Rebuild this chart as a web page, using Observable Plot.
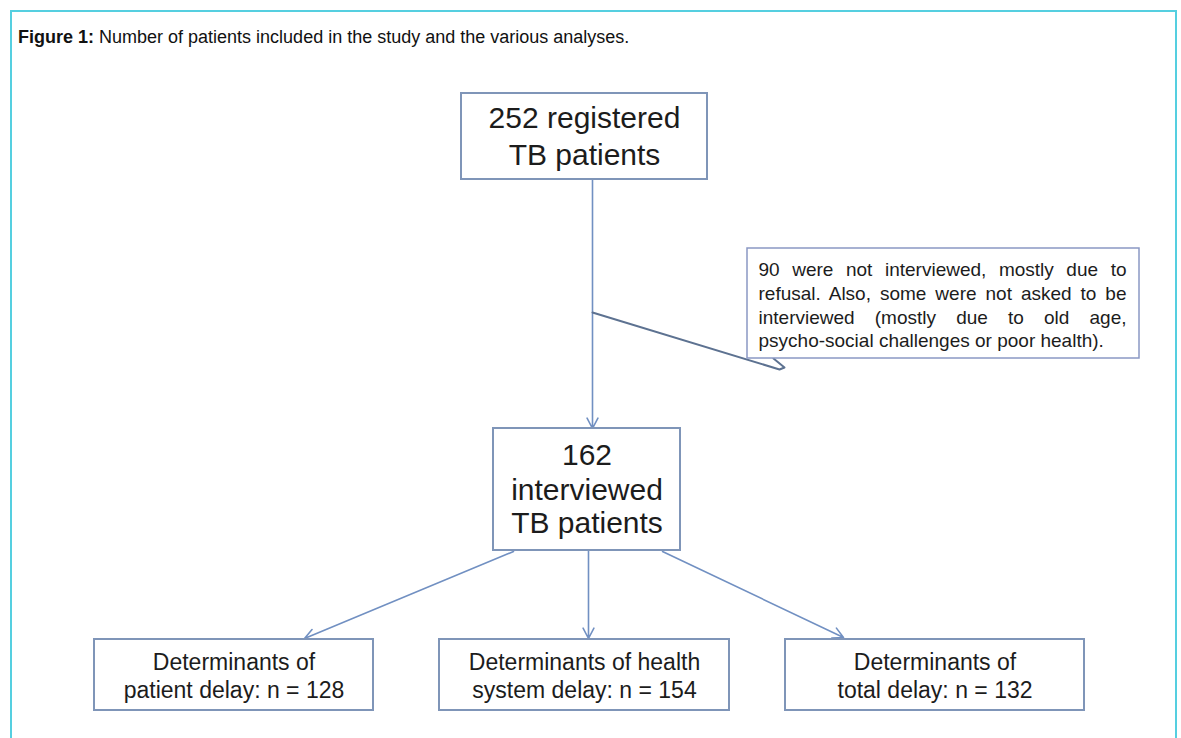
<!DOCTYPE html>
<html><head><meta charset="utf-8">
<script src="https://cdn.jsdelivr.net/npm/d3@7"></script>
<script src="https://cdn.jsdelivr.net/npm/@observablehq/plot@0.6"></script>
<style>
html,body{margin:0;padding:0;background:#fff;width:1181px;height:738px;overflow:hidden;}
#frame{position:absolute;left:10px;top:10px;width:1167px;height:800px;border:2px solid #55cfe0;box-sizing:border-box;}
#title{position:absolute;left:18px;top:27px;font:18px "Liberation Sans",Arial,sans-serif;color:#111;white-space:nowrap;}
#chart{position:absolute;left:0;top:0;}
</style></head><body>
<div id="frame"></div>
<div id="title"><b>Figure 1:</b> Number of patients included in the study and the various analyses.</div>
<div id="chart"></div>
<script>
// ---- data ----
const registered = 252;
const interviewed = 162;
const notInterviewed = 90;
const analysisHeads = ["Determinants of", "Determinants of health", "Determinants of"];
const analysisTails = ["patient delay", "system delay", "total delay"];
const analysisCounts = [128, 154, 132];
const calloutLines = [
  `${notInterviewed} were not interviewed, mostly due to`,
  "refusal. Also, some were not asked to be",
  "interviewed (mostly due to old age,",
  "psycho-social challenges or poor health)."
];

// ---- layout (page pixel space) ----
const topBox = {x1: 461, x2: 707, y1: 93, y2: 179};
const midBox = {x1: 493, x2: 680, y1: 428, y2: 550};
const callBox = {x1: 747, x2: 1139, y1: 248, y2: 358};
const botX = [[94, 373], [439, 729], [785, 1084]];
const botY = [639, 710];
const boxes = [topBox, midBox, ...botX.map(([a, b]) => ({x1: a, x2: b, y1: botY[0], y2: botY[1]}))];

const bigLines = [
  {x: (topBox.x1 + topBox.x2) / 2, y: 118, t: `${registered} registered`},
  {x: (topBox.x1 + topBox.x2) / 2, y: 155, t: "TB patients"},
  {x: (midBox.x1 + midBox.x2) / 2, y: 455, t: `${interviewed}`},
  {x: (midBox.x1 + midBox.x2) / 2, y: 490, t: "interviewed"},
  {x: (midBox.x1 + midBox.x2) / 2, y: 523, t: "TB patients"}
];
const botLines = botX.flatMap(([a, b], i) => [
  {x: (a + b) / 2, y: 662, t: analysisHeads[i]},
  {x: (a + b) / 2, y: 690, t: `${analysisTails[i]}: n = ${analysisCounts[i]}`}
]);
const calloutX = 758, calloutW = 368, calloutY = [269, 293, 317, 340];
const callText = calloutLines.map((t, i) => ({x: calloutX, y: calloutY[i], t}));

const arrows = [
  {x1: 592, y1: topBox.y2, x2: 592, y2: midBox.y1},
  {x1: 513, y1: 551, x2: 304, y2: 638},
  {x1: 588, y1: midBox.y2, x2: 588, y2: 638},
  {x1: 662, y1: 551, x2: 843, y2: 637}
];
const tail = [{x: 592, y: 312}, {x: 779, y: 369}, {x: 784, y: 367}, {x: 773, y: 358}];

const font = "Liberation Sans, Arial, sans-serif";
const boxStroke = "#7f95b8";
const svg = Plot.plot({
  width: 1181, height: 738, margin: 0,
  x: {domain: [0, 1181], range: [0, 1181], axis: null},
  y: {domain: [0, 738], range: [0, 738], axis: null},
  style: {background: "transparent", fontFamily: font},
  marks: [
    Plot.arrow(arrows, {x1: "x1", y1: "y1", x2: "x2", y2: "y2", stroke: "#7190c2", strokeWidth: 1.6, headLength: 11, headAngle: 55}),
    Plot.line(tail, {x: "x", y: "y", stroke: "#5d7291", strokeWidth: 2, curve: "linear"}),
    Plot.rect(boxes, {x1: "x1", x2: "x2", y1: "y1", y2: "y2", fill: "white", stroke: boxStroke, strokeWidth: 2}),
    Plot.rect([callBox], {x1: "x1", x2: "x2", y1: "y1", y2: "y2", fill: "white", stroke: "#8a98c4", strokeWidth: 1.5}),
    Plot.text(bigLines, {x: "x", y: "y", text: "t", fontSize: 30, fill: "#1c1c1c", fontFamily: font}),
    Plot.text(botLines, {x: "x", y: "y", text: "t", fontSize: 23, fill: "#1c1c1c", fontFamily: font}),
    Plot.text(callText, {x: "x", y: "y", text: "t", fontSize: 19, textAnchor: "start", fill: "#1c1c1c", fontFamily: font})
  ]
});
document.getElementById("chart").append(svg);

// justify the callout's first lines
d3.select(svg).selectAll("text").each(function () {
  const i = calloutLines.indexOf(this.textContent);
  if (i >= 0 && i < calloutLines.length - 1) {
    const natural = this.getComputedTextLength();
    const spaces = (this.textContent.match(/ /g) || []).length;
    this.style.wordSpacing = ((calloutW - natural) / spaces) + "px";
  }
});
</script>
</body></html>
